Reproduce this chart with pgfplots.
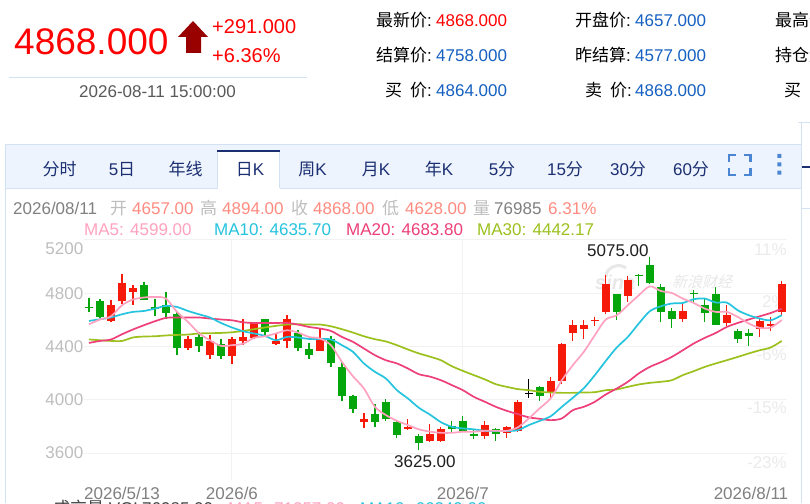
\documentclass[border=0pt]{standalone}
\usepackage{fontspec}
\setmainfont{Liberation Sans}
\newfontfamily\cjk{Noto Sans CJK SC}
\newfontfamily\cjki[FakeSlant=0.25]{Noto Sans CJK SC}
\usepackage{pgfplots}
\usepackage{pgfplotstable}
\pgfplotsset{compat=1.18}
\definecolor{kred}{HTML}{F51A0A}
\definecolor{kgreen}{HTML}{04A60C}
\definecolor{ma5}{HTML}{FFA2BF}
\definecolor{ma10}{HTML}{25C4DE}
\definecolor{ma20}{HTML}{EE3F78}
\definecolor{ma30}{HTML}{9CC11E}
\definecolor{blueval}{HTML}{1560C0}
\definecolor{navy}{HTML}{1B2F72}
\definecolor{lab}{HTML}{BEBEBE}
\definecolor{val}{HTML}{FF8B80}
\definecolor{bord}{HTML}{D3E2F2}
\definecolor{band}{HTML}{EEF4FD}
\definecolor{icon}{HTML}{4A86D2}

% i bottom top high low
\pgfplotstableread{
i bot top hi lo
2 4592 4710 4753 4582
3 4740 4880 4948 4723
4 4807 4837 4865 4710
9 4390 4453 4477 4372
11 4337 4440 4485 4303
13 4327 4453 4472 4267
14 4440 4472 4610 4410
15 4465 4573 4585 4453
17 4417 4442 4505 4410
18 4442 4610 4640 4390
21 4367 4447 4535 4365
25 3832 3853 3898 3785
29 3782 3795 3853 3772
31 3690 3742 3817 3682
32 3692 3778 3793 3685
36 3727 3808 3840 3707
38 3748 3797 3802 3712
39 3767 3980 3997 3757
42 4052 4140 4172 4003
43 4140 4417 4425 4120
44 4498 4560 4597 4440
45 4528 4560 4597 4457
46 4588 4597 4625 4552
47 4657 4867 4940 4642
49 4777 4903 4927 4732
54 4605 4665 4717 4585
58 4573 4633 4710 4552
61 4530 4590 4615 4468
62 4552 4567 4618 4517
63 4657 4868 4894 4628
}\redk
\pgfplotstableread{
i bot top hi lo
0 4690 4700 4768 4660
1 4622 4740 4760 4612
5 4753 4860 4885 4747
6 4680 4697 4760 4627
7 4648 4715 4810 4603
8 4390 4642 4660 4335
10 4402 4472 4510 4360
12 4327 4420 4453 4303
16 4510 4603 4610 4477
19 4390 4505 4522 4365
20 4340 4378 4430 4303
22 4273 4460 4477 4243
23 4027 4247 4280 3990
24 3932 4025 4035 3902
26 3832 3895 3965 3795
27 3853 3982 4003 3842
28 3737 3832 3842 3715
30 3673 3727 3742 3625
33 3778 3802 3840 3760
34 3767 3842 3877 3760
35 3727 3745 3778 3703
37 3745 3778 3785 3692
41 4027 4097 4105 3990
48 4657 4795 4795 4597
50 4927 4940 4942 4852
51 4877 5010 5075 4867
52 4660 4847 4867 4585
53 4603 4665 4690 4540
55 4798 4805 4828 4730
56 4648 4710 4768 4585
57 4562 4792 4847 4562
59 4455 4515 4535 4427
60 4477 4505 4530 4402
}\greenk
\pgfplotstableread{
i bot top hi lo
40 4042 4050 4157 4015
}\blackk
\pgfplotstableread{
i ma5 ma10 ma20 ma30
0 4567 4592 4427 4453
1 4603 4605 4442 4447
2 4627 4618 4453 4442
3 4710 4642 4492 4442
4 4753 4660 4528 4468
5 4768 4667 4560 4475
6 4772 4685 4590 4477
7 4760 4705 4615 4483
8 4660 4697 4618 4487
9 4585 4667 4618 4490
10 4500 4642 4618 4498
11 4447 4618 4610 4500
12 4405 4577 4603 4502
13 4410 4543 4597 4507
14 4421 4515 4582 4517
15 4465 4498 4577 4530
16 4477 4480 4577 4543
17 4498 4447 4577 4555
18 4522 4472 4577 4565
19 4505 4468 4565 4567
20 4472 4457 4547 4565
21 4460 4457 4535 4565
22 4410 4453 4517 4552
23 4285 4410 4472 4530
24 4177 4360 4435 4505
25 4085 4273 4385 4477
26 3947 4210 4335 4455
27 3885 4160 4297 4438
28 3842 4072 4273 4410
29 3810 4010 4235 4378
30 3778 3940 4192 4348
31 3761 3889 4174 4324
32 3752 3832 4147 4297
33 3752 3797 4110 4252
34 3760 3785 4072 4217
35 3760 3778 4022 4185
36 3767 3767 3985 4153
37 3767 3765 3947 4117
38 3767 3765 3917 4097
39 3793 3772 3892 4080
40 3860 3810 3868 4072
41 3937 3842 3857 4060
42 4012 3877 3847 4055
43 4147 3947 3860 4052
44 4260 4015 3922 4052
45 4360 4087 3947 4055
46 4485 4185 3985 4057
47 4603 4292 4040 4072
48 4635 4393 4085 4078
49 4710 4472 4135 4097
50 4785 4573 4198 4115
51 4852 4665 4247 4127
52 4817 4702 4282 4135
53 4802 4723 4322 4147
54 4760 4727 4372 4185
55 4727 4755 4423 4215
56 4685 4760 4465 4247
57 4660 4730 4502 4273
58 4660 4730 4547 4297
59 4622 4672 4577 4322
60 4573 4635 4603 4348
61 4540 4610 4627 4372
62 4543 4597 4652 4393
63 4599 4635.7 4683.8 4442
}\matable

\begin{document}
\begin{tikzpicture}
\useasboundingbox (0,0) rectangle (810pt,503pt);
\path[clip] (0,0) rectangle (810pt,503pt);
\fill[white] (0,0) rectangle (810pt,503pt);
\begin{scope}[x=1pt,y=-1pt,shift={(0pt,503pt)},
  t/.style={anchor=base west,inner sep=0pt,font=\fontsize{17}{20}\selectfont},
  c/.style={anchor=base,inner sep=0pt,font=\fontsize{17}{20}\selectfont,text=navy},
  r/.style={anchor=base east,inner sep=0pt,font=\fontsize{17}{20}\selectfont,text=black!8}]
% quote block
\node[t,font=\fontsize{37}{40}\selectfont,text=red] at (14,55) {4868.000};
\fill[red!60!black] (193,21)--(208,37)--(201,37)--(201,53)--(186,53)--(186,37)--(178,37)--cycle;
\node[t,font=\fontsize{20}{22}\selectfont,text=red] at (212,34) {+291.000};
\node[t,font=\fontsize{20}{22}\selectfont,text=red] at (212,63) {+6.36\%};
\draw[bord] (9,77.5)--(307,77.5);
\node[t,text=black!65] at (79,98) {2026-08-11 15:00:00};
% quote columns
\foreach \lx/\ly/\l in {376/27/最新价,376/62/结算价,575/27/开盘价,575/62/昨结算,775/27/最高价,775/62/持仓量}
  \node[t,text=black] at (\lx,\ly) {{\cjk\l}:};
\node[t] at (385,97) {\cjk 买};\node[t] at (410,97) {{\cjk 价}:};
\node[t] at (585,97) {\cjk 卖};\node[t] at (610,97) {{\cjk 价}:};
\node[t] at (784,97) {\cjk 买};
\node[t,text=red] at (436,27) {4868.000};
\node[t,text=blueval] at (436,62) {4758.000};
\node[t,text=blueval] at (436,97) {4864.000};
\node[t,text=blueval] at (635,27) {4657.000};
\node[t,text=blueval] at (635,62) {4577.000};
\node[t,text=blueval] at (635,97) {4868.000};
% panel
\fill[band] (5,144.5) rectangle (801.5,188);
\draw[bord] (5.5,503)--(5.5,144.5)--(801.5,144.5);
\draw[bord] (5.5,188.5)--(801.5,188.5);
\draw[bord] (801.5,503)--(801.5,122.5)--(798,122.5);
\draw[bord] (801.5,122.5)--(810,122.5);
\draw[bord] (801.5,208.5)--(810,208.5);
\draw[navy,line width=1.6pt] (802,167)--(810,167);
\fill[white] (217.5,150) rectangle (279.5,189);
\draw[bord] (217.5,188)--(217.5,151) (279.5,188)--(279.5,151);
\fill[navy] (217,150) rectangle (280,152.5);
\foreach \cx/\l in {59.5/分时,185.5/年线} \node[c] at (\cx,176) {\cjk\l};
\node[c] at (122,176) {5{\cjk 日}};
\node[c] at (250,176) {{\cjk 日}K};
\node[c] at (312.5,176) {{\cjk 周}K};
\node[c] at (376,176) {{\cjk 月}K};
\node[c] at (439,176) {{\cjk 年}K};
\node[c] at (502,176) {5{\cjk 分}};
\node[c] at (565,176) {15{\cjk 分}};
\node[c] at (628,176) {30{\cjk 分}};
\node[c] at (691,176) {60{\cjk 分}};
\draw[icon,line width=2.4pt] (729,162)--(729,155.2)--(736,155.2) (743.5,155.2)--(750.3,155.2)--(750.3,162)
  (729,168.5)--(729,175)--(736,175) (743.5,175)--(750.3,175)--(750.3,168.5);
\fill[icon] (777.3,154) rectangle (781.3,158) (777.3,162.3) rectangle (781.3,166.3) (777.3,170.7) rectangle (781.3,174.7);
% info rows
\node[t,text=black!50] at (13,215) {2026/08/11};
\node[t,text=lab] at (110,215) {\cjk 开};\node[t,text=val] at (132,215) {4657.00};
\node[t,text=lab] at (200,215) {\cjk 高};\node[t,text=val] at (222,215) {4894.00};
\node[t,text=lab] at (291,215) {\cjk 收};\node[t,text=val] at (313,215) {4868.00};
\node[t,text=lab] at (382,215) {\cjk 低};\node[t,text=val] at (405,215) {4628.00};
\node[t,text=lab] at (473,215) {\cjk 量};\node[t,text=black!50] at (494,215) {76985};
\node[t,text=val] at (548,215) {6.31\%};
\node[t,text=ma5] at (84,236) {MA5: 4599.00};
\node[t,text=ma10] at (214,236) {MA10: 4635.70};
\node[t,text=ma20] at (346,236) {MA20: 4683.80};
\node[t,text=ma30] at (477,236) {MA30: 4442.17};
% watermark
\node[t,font=\bfseries\itshape\fontsize{20}{22}\selectfont,text=black!9] at (595,290) {sina};
\node[t,font=\fontsize{15}{16}\selectfont,text=black!9] at (672,288) {\cjki 新浪财经};
\draw[black!9,line width=3pt] (606,277) .. controls (606,266) and (620,263) .. (626,268);
% right percentages
\node[r] at (787,255.7) {11\%};
\node[r] at (787,307.7) {2\%};
\node[r] at (787,361) {-6\%};
\node[r] at (787,414) {-15\%};
\node[r] at (787,468) {-23\%};
% extremes
\node[t,text=black!88] at (587,257) {5075.00};
\node[t,text=black!88] at (394,467.5) {3625.00};
% clipped bottom row
\node[t,text=black!75] at (53,514) {{\cjk 成交量} VOL:};
\node[t,text=black!75] at (142,514) {76985.00};
\node[t,text=ma5] at (228,514) {MA5: 71257.00};
\node[t,text=ma10] at (360,514) {MA10: 66349.00};
\end{scope}
\begin{axis}[
  at={(83.5pt,23pt)},anchor=south west,
  scale only axis,width=703.2pt,height=240pt,
  xmin=-0.5,xmax=63.45,ymin=3397.5,ymax=5200,
  axis line style={draw=none},
  major tick length=0pt,
  grid=major,
  major grid style={draw=black!5,line width=1pt},
  ytick={3600,4000,4400,4800,5200},
  yticklabels={3600,4000,4400,4800,{}},
  xtick={13,34},
  xticklabels={2026/6,2026/7},
  extra y ticks={5132.5},
  extra y tick labels={5200},
  extra x ticks={3,60.2},
  extra x tick labels={2026/5/13,2026/8/11},
  extra tick style={grid=none},
  tick label style={font=\fontsize{17}{20}\selectfont,inner sep=0pt},
  yticklabel style={text=lab,anchor=east},
  xticklabel style={text=black!50,anchor=north,yshift=-7pt},
  clip=true,
  candle/.style={draw=none,no marks,forget plot,
    error bars/.cd,y dir=minus,y explicit,error mark=none,
    error bar style={#1,line cap=butt}},
]
% candles: wick then body
\addplot[candle={kred,line width=1.2pt}]
  table[x=i,y=hi,y error minus expr=\thisrow{hi}-\thisrow{lo}] {\redk};
\addplot[candle={kred,line width=7.5pt}]
  table[x=i,y=top,y error minus expr=\thisrow{top}-\thisrow{bot}] {\redk};
\addplot[candle={kgreen,line width=1.2pt}]
  table[x=i,y=hi,y error minus expr=\thisrow{hi}-\thisrow{lo}] {\greenk};
\addplot[candle={kgreen,line width=7.5pt}]
  table[x=i,y=top,y error minus expr=\thisrow{top}-\thisrow{bot}] {\greenk};
\addplot[candle={black,line width=1.2pt}]
  table[x=i,y=hi,y error minus expr=\thisrow{hi}-\thisrow{lo}] {\blackk};
\addplot[candle={black,line width=7.5pt}]
  table[x=i,y=top,y error minus expr=\thisrow{top}-\thisrow{bot}] {\blackk};
% moving averages
\addplot[ma30,line width=1.7pt,smooth,no marks] table[x=i,y=ma30] {\matable};
\addplot[ma20,line width=1.7pt,smooth,no marks] table[x=i,y=ma20] {\matable};
\addplot[ma10,line width=1.7pt,smooth,no marks] table[x=i,y=ma10] {\matable};
\addplot[ma5,line width=1.7pt,smooth,no marks] table[x=i,y=ma5] {\matable};
\end{axis}
\end{tikzpicture}
\end{document}
